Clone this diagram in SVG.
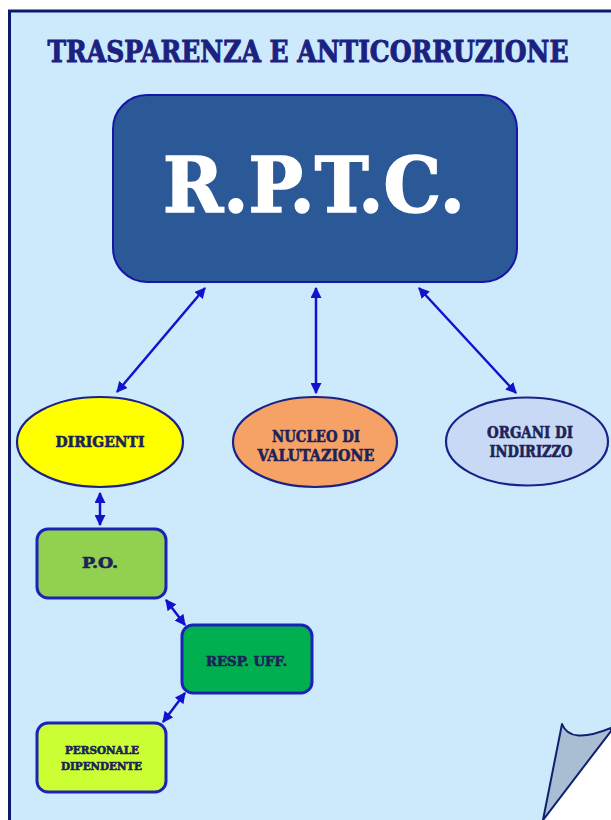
<svg xmlns="http://www.w3.org/2000/svg" width="611" height="820" viewBox="0 0 611 820">
<style>
.t{font-family:"DejaVu Serif Condensed","DejaVu Serif","Liberation Serif",serif;font-weight:bold;text-anchor:middle;}
.title{fill:#1b2180;stroke:#1b2180;stroke-width:0.9;font-size:30px;}
.big{fill:#ffffff;stroke:#ffffff;stroke-width:1.5;font-size:77px;}
.lbl{fill:#1c2357;stroke:#1c2357;stroke-width:0.55;}
.ell{stroke:#1a2288;stroke-width:2.2;}
.box{stroke:#1a22b8;stroke-width:3;}
.con{stroke:#1212cc;stroke-width:2.5;fill:none;marker-start:url(#ah);marker-end:url(#ah);}
</style>
<defs>
<marker id="ah" viewBox="0 0 10 10" refX="9" refY="5" markerWidth="4.4" markerHeight="4.4" orient="auto-start-reverse" markerUnits="strokeWidth">
<path d="M0,0 L10,5 L0,10 z" fill="#1212cc"/>
</marker>
</defs>
<rect x="0" y="0" width="611" height="820" fill="#ffffff"/>
<rect x="9.5" y="11" width="610" height="820" fill="#cdeafc"/>
<path d="M9.5,820 V11 H611" fill="none" stroke="#0d1a6b" stroke-width="3"/>
<path d="M545,820 L611,731 L611,820 Z" fill="#ffffff"/>
<path d="M543,820 L562,724 Q570,745 611,728 L611,731 Z" fill="#a9bdd3" stroke="#10206e" stroke-width="2" stroke-linejoin="round"/>

<text class="t title" x="308" y="62" textLength="521" lengthAdjust="spacingAndGlyphs">TRASPARENZA E ANTICORRUZIONE</text>

<g id="connectors">
<line class="con" x1="205" y1="288" x2="117" y2="392"/>
<line class="con" x1="316" y1="288" x2="316" y2="393"/>
<line class="con" x1="419" y1="288" x2="516" y2="393"/>
<line class="con" x1="100" y1="493" x2="100" y2="525"/>
<line class="con" x1="166" y1="600" x2="185" y2="625"/>
<line class="con" x1="185" y1="693" x2="163" y2="722"/>
</g>

<g id="rptc">
<rect x="113" y="95" width="404" height="187" rx="34" fill="#2b5897" stroke="#1616a8" stroke-width="2"/>
<text class="t big" x="314" y="212" textLength="302" lengthAdjust="spacingAndGlyphs">R.P.T.C.</text>
</g>

<g id="dirigenti">
<ellipse class="ell" cx="100" cy="442" rx="83" ry="45" fill="#ffff00"/>
<text class="t lbl" x="100" y="447" font-size="15" textLength="89" lengthAdjust="spacingAndGlyphs">DIRIGENTI</text>
</g>

<g id="nucleo">
<ellipse class="ell" cx="315" cy="442" rx="82" ry="45" fill="#f6a267"/>
<text class="t lbl" x="316" y="442" font-size="17" textLength="88" lengthAdjust="spacingAndGlyphs">NUCLEO DI</text>
<text class="t lbl" x="316" y="461" font-size="17" textLength="117" lengthAdjust="spacingAndGlyphs">VALUTAZIONE</text>
</g>

<g id="organi">
<ellipse class="ell" cx="527" cy="441.5" rx="81" ry="44" fill="#c8d9f5"/>
<text class="t lbl" x="530" y="438" font-size="16" textLength="86" lengthAdjust="spacingAndGlyphs">ORGANI DI</text>
<text class="t lbl" x="531" y="457" font-size="16" textLength="83" lengthAdjust="spacingAndGlyphs">INDIRIZZO</text>
</g>

<g id="po">
<rect class="box" x="37" y="529" width="129" height="69" rx="11" fill="#92d050"/>
<text class="t lbl" x="100" y="568" font-size="15" textLength="36" lengthAdjust="spacingAndGlyphs">P.O.</text>
</g>

<g id="resp">
<rect class="box" x="182" y="625" width="130" height="68" rx="11" fill="#00b050"/>
<text class="t lbl" x="246.5" y="666" font-size="12.5" textLength="81" lengthAdjust="spacingAndGlyphs">RESP. UFF.</text>
</g>

<g id="personale">
<rect class="box" x="37" y="723" width="129" height="69" rx="11" fill="#ccff33"/>
<text class="t lbl" x="102" y="754" font-size="11" textLength="74" lengthAdjust="spacingAndGlyphs">PERSONALE</text>
<text class="t lbl" x="101.5" y="769.5" font-size="11" textLength="81" lengthAdjust="spacingAndGlyphs">DIPENDENTE</text>
</g>
</svg>
